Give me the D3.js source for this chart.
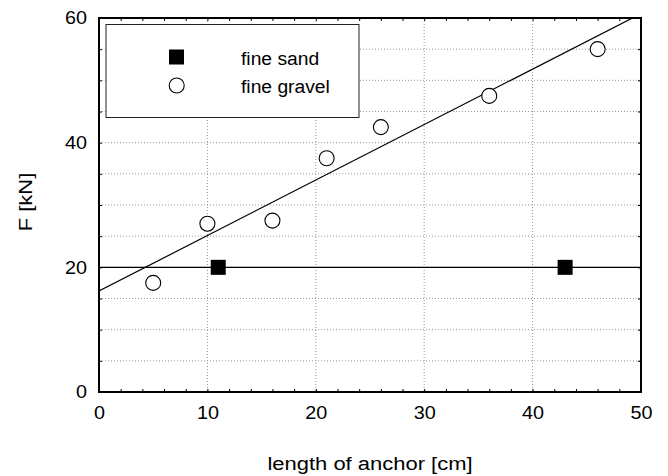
<!DOCTYPE html>
<html><head><meta charset="utf-8">
<script src="https://cdn.jsdelivr.net/npm/d3@7"></script>
<style>body{margin:0;background:#fff}svg{display:block}text{font-family:"Liberation Sans",Arial,sans-serif}</style>
</head><body><svg id="c" width="668" height="476"></svg>
<script>
const sandX = [11, 43];
const sandY = [20, 20];
const gravelX = [5, 10, 16, 21, 26, 36, 46];
const gravelY = [17.5, 27, 27.5, 37.5, 42.5, 47.5, 55];
const sandFitX = [0, 50];
const sandFitY = [20, 20];
const gravelFitX = [0, 50];
const gravelFitY = [16.2, 60.7];
const xTicks = [0, 10, 20, 30, 40, 50];
const yTicks = [0, 20, 40, 60];
const xMinor = d3.range(0, 51, 2);
const yMinor = d3.range(0, 61, 5);
const xGrid = [10, 20, 30, 40];
const yGrid = [5, 10, 15, 20, 25, 30, 35, 40, 45, 50, 55];
const legendLabels = ["fine sand", "fine gravel"];

const svg = d3.select("#c");
const L = 99, R = 641, T = 18, B = 392;
const x = d3.scaleLinear().domain([0, 50]).range([L, R]);
const y = d3.scaleLinear().domain([0, 60]).range([B, T]);
const FS = 18;

function stretch(sel, f) {
  sel.each(function () {
    const w = this.getComputedTextLength();
    d3.select(this).attr("textLength", w * f).attr("lengthAdjust", "spacingAndGlyphs");
  });
}

svg.append("defs").append("clipPath").attr("id", "clip")
  .append("rect").attr("x", L).attr("y", T).attr("width", R - L).attr("height", B - T);

const g = svg.append("g");
g.selectAll(".vg").data(xGrid).join("line")
  .attr("x1", d => x(d)).attr("x2", d => x(d)).attr("y1", T).attr("y2", B)
  .attr("stroke", "#999").attr("stroke-width", 1).attr("stroke-dasharray", "1,2");
g.selectAll(".hg").data(yGrid).join("line")
  .attr("y1", d => y(d)).attr("y2", d => y(d)).attr("x1", L).attr("x2", R)
  .attr("stroke", "#999").attr("stroke-width", 1).attr("stroke-dasharray", "1,2");

const xb = d3.axisBottom(x).tickValues(xMinor).tickSize(-3).tickFormat("");
const xt = d3.axisTop(x).tickValues(xMinor).tickSize(-3).tickFormat("");
const yl = d3.axisLeft(y).tickValues(yMinor).tickSize(-3).tickFormat("");
const yr = d3.axisRight(y).tickValues(yMinor).tickSize(-3).tickFormat("");
[[xb, `translate(0,${B})`], [xt, `translate(0,${T})`], [yl, `translate(${L},0)`], [yr, `translate(${R},0)`]].forEach(([a, t]) => {
  const ag = svg.append("g").attr("transform", t).call(a);
  ag.select(".domain").remove();
  ag.selectAll("line").attr("stroke", "#000");
});

const xl = d3.axisBottom(x).tickValues(xTicks).tickSize(0).tickPadding(14);
const xlg = svg.append("g").attr("transform", `translate(0,${B})`).call(xl);
xlg.select(".domain").remove();
xlg.selectAll("text").attr("font-size", FS).attr("font-family", "Liberation Sans, Arial, sans-serif").attr("fill", "#000").call(stretch, 1.1);
const ylAx = d3.axisLeft(y).tickValues(yTicks).tickSize(0).tickPadding(12);
const ylg = svg.append("g").attr("transform", `translate(${L},0)`).call(ylAx);
ylg.select(".domain").remove();
ylg.selectAll("text").attr("font-size", FS).attr("font-family", "Liberation Sans, Arial, sans-serif").attr("fill", "#000").call(stretch, 1.1);

const line = d3.line().x(d => x(d[0])).y(d => y(d[1]));
const pg = svg.append("g").attr("clip-path", "url(#clip)");
pg.append("path").datum(d3.zip(sandFitX, sandFitY)).attr("d", line)
  .attr("fill", "none").attr("stroke", "#000").attr("stroke-width", 1.2);
pg.append("path").datum(d3.zip(gravelFitX, gravelFitY)).attr("d", line)
  .attr("fill", "none").attr("stroke", "#000").attr("stroke-width", 1.2);

svg.selectAll(".sq").data(d3.zip(sandX, sandY)).join("rect")
  .attr("x", d => x(d[0]) - 7.5).attr("y", d => y(d[1]) - 7.5)
  .attr("width", 15).attr("height", 15).attr("fill", "#000");
svg.selectAll(".ci").data(d3.zip(gravelX, gravelY)).join("circle")
  .attr("cx", d => x(d[0])).attr("cy", d => y(d[1])).attr("r", 7.5)
  .attr("fill", "#fff").attr("stroke", "#000").attr("stroke-width", 1.1);

svg.append("rect").attr("x", L).attr("y", T).attr("width", R - L).attr("height", B - T)
  .attr("fill", "none").attr("stroke", "#000").attr("stroke-width", 2);

const lg = svg.append("g");
lg.append("rect").attr("x", 106).attr("y", 24.5).attr("width", 253).attr("height", 93)
  .attr("fill", "#fff").attr("stroke", "#222").attr("stroke-width", 1);
lg.append("rect").attr("x", 169).attr("y", 49.5).attr("width", 15).attr("height", 15).attr("fill", "#000");
lg.append("circle").attr("cx", 176.7).attr("cy", 85.5).attr("r", 7.5)
  .attr("fill", "#fff").attr("stroke", "#000").attr("stroke-width", 1.1);
lg.selectAll(".lt").data(legendLabels).join("text")
  .attr("x", 241).attr("y", (d, i) => 65 + i * 28)
  .attr("font-size", FS).attr("fill", "#000").text(d => d).call(stretch, 1.07);

svg.append("text").attr("x", (L + R) / 2).attr("y", 470).attr("text-anchor", "middle")
  .attr("font-size", FS).attr("fill", "#000").text("length of anchor [cm]").call(stretch, 1.22);
svg.append("text").attr("transform", `translate(32,202) rotate(-90)`).attr("text-anchor", "middle")
  .attr("font-size", FS).attr("fill", "#000").text("F [kN]").call(stretch, 1.22);
</script></body></html>
